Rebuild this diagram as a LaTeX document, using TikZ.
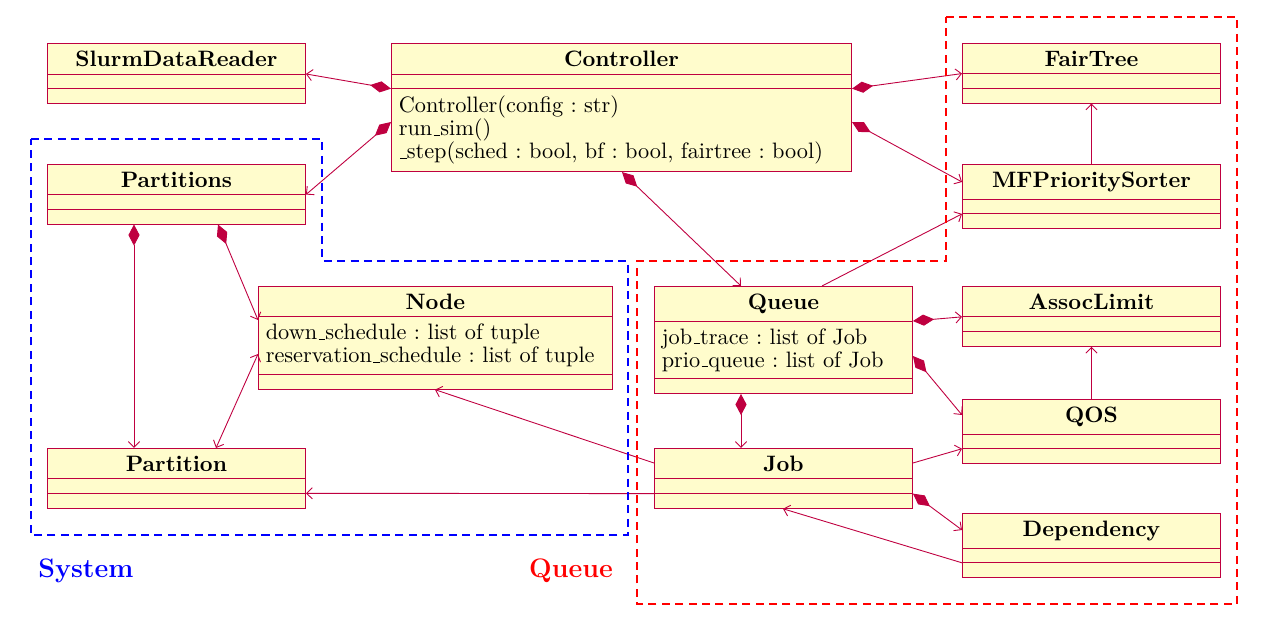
\documentclass[tikz,border=0pt]{standalone}
\usetikzlibrary{shapes.multipart,arrows.meta,calc}
\newcommand\usc{\leavevmode\kern.06em\vbox{\hrule width.3em}}
\hyphenpenalty=10000
\frenchspacing
\begin{document}
\begin{tikzpicture}[x=0.4484pt,y=-0.4484pt,
  umlclass/.style={rectangle split, rectangle split parts=3, draw=purple, fill=yellow!20,
    anchor=north west, inner xsep=3.3pt, inner ysep=3.1pt,
    rectangle split empty part height=0.9pt, rectangle split empty part depth=0pt,
    align=left, font=\fontsize{10}{10.3}\selectfont, line width=0.4pt},
  w1/.style={text width=109.1pt},
  w2/.style={text width=199.7pt},
  w3/.style={text width=152.1pt},
  conn/.style={draw=purple, line width=0.4pt},
  assoc/.style={conn, -{Straight Barb[length=2.6pt,width=5pt]}},
  both/.style={conn, {Straight Barb[length=2.6pt,width=5pt]}-{Straight Barb[length=2.6pt,width=5pt]}},
  comp/.style={conn, {Diamond[length=9.5pt,width=5pt,fill=purple]}-{Straight Barb[length=2.6pt,width=5pt]}},
  region/.style={line width=0.8pt, dash pattern=on 3.6pt off 2.4pt},
  grouplabel/.style={font=\large\bfseries}
]
\useasboundingbox (0,0) rectangle (1282,642);

% classes
\node[umlclass,w1] (SDR) at (47,43) {\makebox[\linewidth]{\textbf{SlurmDataReader}}\nodepart{two}\nodepart{three}};
\node[umlclass,w2] (Controller) at (391,43) {\makebox[\linewidth]{\textbf{Controller}}\nodepart{two}\nodepart{three}Controller(config : str)\\run\usc sim()\\\usc step(sched : bool, bf : bool, fairtree : bool)};
\node[umlclass,w1] (FairTree) at (962,43) {\makebox[\linewidth]{\textbf{FairTree}}\nodepart{two}\nodepart{three}};
\node[umlclass,w1] (MFPS) at (962,164) {\makebox[\linewidth]{\textbf{MFPrioritySorter}}\nodepart{two}\nodepart{three}};
\node[umlclass,w1] (Partitions) at (47,164) {\makebox[\linewidth]{\textbf{Partitions}}\nodepart{two}\nodepart{three}};
\node[umlclass,w3] (Node) at (258,286) {\makebox[\linewidth]{\textbf{Node}}\nodepart{two}down\usc schedule : list of tuple\\reservation\usc schedule : list of tuple\nodepart{three}};
\node[umlclass,w1] (Queue) at (654,286) {\makebox[\linewidth]{\textbf{Queue}}\nodepart{two}job\usc trace : list of Job\\prio\usc queue : list of Job\nodepart{three}};
\node[umlclass,w1] (AssocLimit) at (962,286) {\makebox[\linewidth]{\textbf{AssocLimit}}\nodepart{two}\nodepart{three}};
\node[umlclass,w1] (QOS) at (962,399) {\makebox[\linewidth]{\textbf{QOS}}\nodepart{two}\nodepart{three}};
\node[umlclass,w1] (Job) at (654,448) {\makebox[\linewidth]{\textbf{Job}}\nodepart{two}\nodepart{three}};
\node[umlclass,w1] (Partition) at (47,448) {\makebox[\linewidth]{\textbf{Partition}}\nodepart{two}\nodepart{three}};
\node[umlclass,w1] (Dependency) at (962,513) {\makebox[\linewidth]{\textbf{Dependency}}\nodepart{two}\nodepart{three}};

% connectors
\draw[comp] (Controller.two split west) -- (SDR.text split east);
\draw[comp] ($(Controller.north west)+(0,79)$) -- (Partitions.text split east);
\draw[comp] (Controller.two split east) -- (FairTree.text split west);
\draw[comp] ($(Controller.north east)+(0,79)$) -- ($(MFPS.north west)+(0,18)$);
\draw[comp] ($(Controller.south west)+(231,0)$) -- ($(Queue.north west)+(87,0)$);
\draw[assoc] ($(Queue.north west)+(168,0)$) -- (MFPS.two split west);
\draw[assoc] (MFPS.north) -- (FairTree.south);
\draw[comp] (Queue.text split east) -- (AssocLimit.text split west);
\draw[comp] ($(Queue.north east)+(0,70)$) -- ($(QOS.north west)+(0,16)$);
\draw[assoc] (QOS.north) -- (AssocLimit.south);
\draw[comp] ($(Queue.south west)+(87,0)$) -- ($(Job.north west)+(87,0)$);
\draw[assoc] ($(Job.north east)+(0,15)$) -- (QOS.two split west);
\draw[comp] (Job.two split east) -- ($(Dependency.north west)+(0,17)$);
\draw[assoc] (Dependency.two split west) -- ($(Job.south west)+(129,0)$);
\draw[assoc] ($(Job.north west)+(0,15)$) -- ($(Node.south west)+(177,0)$);
\draw[assoc] (Job.two split west) -- (Partition.two split east);
\draw[comp] ($(Partitions.south west)+(87,0)$) -- ($(Partition.north west)+(87,0)$);
\draw[comp] ($(Partitions.south west)+(171,0)$) -- ($(Node.north west)+(0,34)$);
\draw[both] ($(Node.north west)+(0,68)$) -- ($(Partition.north west)+(169,0)$);

% regions
\draw[region, blue] (31,139) -- (322,139) -- (322,261) -- (628,261) -- (628,535) -- (31,535) -- cycle;
\draw[region, red] (946,17) -- (1237,17) -- (1237,604) -- (637,604) -- (637,261) -- (946,261) -- cycle;
\node[grouplabel, text=blue] (systemlabel) at (86,571) {System};
\node[grouplabel, text=red] (queuelabel) at (571,571) {Queue};
\end{tikzpicture}
\end{document}
